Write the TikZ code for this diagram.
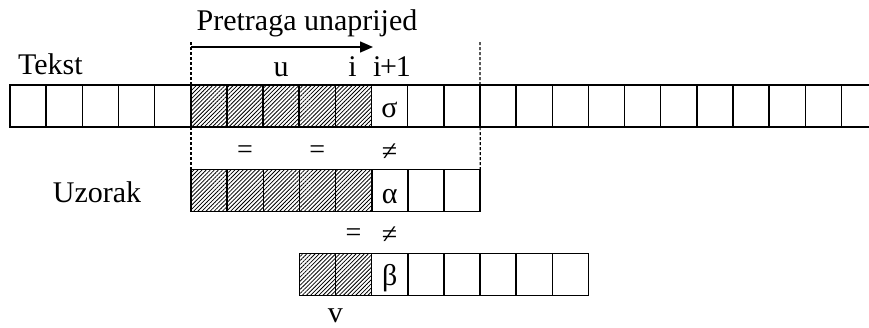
\documentclass[tikz,border=0pt]{standalone}
\usepackage{fontspec}
\setmainfont{Liberation Serif}
\usetikzlibrary{patterns.meta,arrows.meta}
\begin{document}
\begin{tikzpicture}[x=1pt,y=-1pt,
  cell/.style={draw=black,line width=1.5pt,minimum width=36.15pt,minimum height=42.4pt,inner sep=0pt,outer sep=0pt},
  hatched/.style={cell,pattern={Lines[angle=45,distance=2.9pt,line width=0.8pt]}},
  lbl/.style={inner sep=0pt,outer sep=0pt,font=\fontsize{30}{33}\selectfont},
  rel/.style={inner sep=0pt,outer sep=0pt,font=\fontsize{28}{31}\selectfont},
  dashline/.style={line width=1.2pt,dash pattern=on 3pt off 2pt},
  arr/.style={line width=1.5pt,-{Triangle[length=13pt,width=11pt]}}]
\useasboundingbox (0,0) rectangle (869,327);
% text row
\foreach \k in {1,2,3,4,5}
  \node[cell] (t\k) at ({10+36.15*(\k-0.5)},106) {};
\foreach \k in {11,12,13,14,15,16,17,18,19,20,21,22,23,24}
  \node[cell] (t\k) at ({10+36.15*(\k-0.5)},106) {};
\foreach \k in {6,7,8,9,10}
  \node[hatched] (t\k) at ({10+36.15*(\k-0.5)},106) {};
% pattern row
\foreach \k in {1,2,3,4,5}
  \node[hatched] (p\k) at ({191+36.15*(\k-0.5)},190.5) {};
\foreach \k in {6,7,8}
  \node[cell] (p\k) at ({191+36.15*(\k-0.5)},190.5) {};
% shifted pattern row
\foreach \k in {1,2}
  \node[hatched] (q\k) at ({299.3+36.15*(\k-0.5)},274.5) {};
\foreach \k in {3,4,5,6,7,8}
  \node[cell] (q\k) at ({299.3+36.15*(\k-0.5)},274.5) {};
% window
\coordinate (dl) at (191,42);
\coordinate (dr) at (480,42);
\draw[dashline] (dl) -- (p1.north west);
\draw[dashline] (dr) -- (p8.north east);
\coordinate (a0) at (191,47);
\coordinate (a1) at (373,47);
\draw[arr] (a0) -- (a1);
% labels
\node[lbl,anchor=base] (title) at (307,30) {Pretraga unaprijed};
\node[lbl,anchor=base west] (tekst) at (18,74) {Tekst};
\node[lbl,anchor=base] (lu) at (t8.center |- 0,76) {u};
\node[lbl,anchor=base] (li) at (352.5,76) {i};
\node[lbl,anchor=base] (li1) at (392,76) {i\kern-1.2pt+\kern-1.2pt1};
\node[lbl,anchor=base] (sig) at ([yshift=9.5pt]t11.south) {σ};
\node[lbl,anchor=base] (alp) at ([yshift=8.5pt]p6.south) {α};
\node[lbl,anchor=base] (bet) at ([yshift=10pt]q3.south) {β};
\node[rel] (e1) at (t7.center |- 0,152) {=};
\node[rel] (e2) at (t9.center |- 0,152) {=};
\node[rel] (n1) at (t11.center |- 0,152) {≠};
\node[rel] (e3) at (t10.center |- 0,235) {=};
\node[rel] (n2) at (t11.center |- 0,235) {≠};
\node[lbl,anchor=base] (uz) at (97,202) {Uzorak};
\node[lbl,anchor=base] (lv) at (q1.east |- 0,322) {v};
\end{tikzpicture}
\end{document}
